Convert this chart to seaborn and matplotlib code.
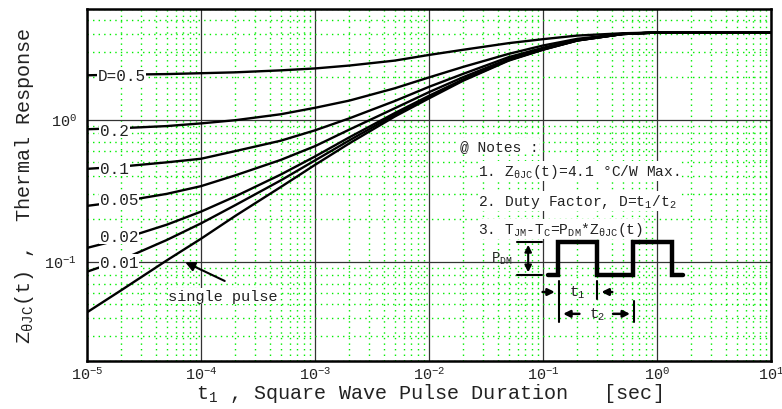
import numpy as np
import pandas as pd
import matplotlib
matplotlib.use("Agg")
import matplotlib.pyplot as plt
import seaborn as sns
from matplotlib.ticker import LogLocator, NullFormatter, FuncFormatter

# pulse duration points (sec)
t_points = [1e-5, 2e-5, 5e-5, 1e-4, 2e-4, 5e-4, 1e-3, 2e-3, 5e-3,
            1e-2, 2e-2, 5e-2, 1e-1, 2e-1, 5e-1, 1, 2, 5, 10]

# thermal response, one list per duty factor
z_d050 = [2.05, 2.07, 2.09, 2.12, 2.15, 2.22, 2.29, 2.40, 2.60,
          2.85, 3.10, 3.45, 3.68, 3.90, 4.05, 4.10, 4.10, 4.10, 4.10]
z_d020 = [0.855, 0.87, 0.90, 0.94, 0.99, 1.09, 1.21, 1.36, 1.66,
          1.98, 2.35, 2.90, 3.32, 3.70, 4.02, 4.10, 4.10, 4.10, 4.10]
z_d010 = [0.45, 0.467, 0.50, 0.53, 0.60, 0.71, 0.84, 1.02, 1.35,
          1.70, 2.10, 2.75, 3.20, 3.65, 4.00, 4.10, 4.10, 4.10, 4.10]
z_d005 = [0.247, 0.265, 0.30, 0.34, 0.405, 0.52, 0.65, 0.85, 1.20,
          1.56, 1.99, 2.67, 3.15, 3.62, 4.00, 4.10, 4.10, 4.10, 4.10]
z_d002 = [0.125, 0.144, 0.182, 0.225, 0.288, 0.41, 0.55, 0.75, 1.11,
          1.47, 1.92, 2.63, 3.12, 3.61, 4.00, 4.10, 4.10, 4.10, 4.10]
z_d001 = [0.085, 0.103, 0.142, 0.186, 0.25, 0.373, 0.516, 0.714, 1.08,
          1.44, 1.90, 2.62, 3.11, 3.60, 4.00, 4.10, 4.10, 4.10, 4.10]
z_single = [0.044, 0.063, 0.102, 0.145, 0.21, 0.335, 0.48, 0.68, 1.05,
            1.41, 1.88, 2.60, 3.10, 3.60, 4.00, 4.10, 4.10, 4.10, 4.10]

curve_names = ["D=0.5", "0.2", "0.1", "0.05", "0.02", "0.01", "single pulse"]
curve_values = [z_d050, z_d020, z_d010, z_d005, z_d002, z_d001, z_single]

# label positions (axes fraction) for the duty factor tags
label_pos = [(0.015, 0.810), (0.019, 0.656), (0.019, 0.548),
             (0.019, 0.460), (0.019, 0.355), (0.019, 0.281)]

df = pd.concat([pd.DataFrame({"t": t_points, "z": v, "curve": n})
                for n, v in zip(curve_names, curve_values)], ignore_index=True)

sns.set_style("white")
plt.rcParams['font.family'] = ['Liberation Mono', 'DejaVu Sans']
plt.rcParams['mathtext.fontset'] = 'custom'
plt.rcParams['mathtext.rm'] = 'Liberation Mono'
plt.rcParams['mathtext.it'] = 'Liberation Mono'
plt.rcParams['mathtext.bf'] = 'Liberation Mono:bold'

fig = plt.figure(figsize=(7.82, 4.10), dpi=100)
ax = fig.add_axes([87 / 782, 48 / 410, 684 / 782, 352 / 410])

sns.lineplot(data=df, x="t", y="z", units="curve", estimator=None,
             color="black", lw=1.7, ax=ax, zorder=3)

ax.set_xscale("log")
ax.set_yscale("log")
ax.set_xlim(1e-5, 10)
ax.set_ylim(0.02, 6)

ax.xaxis.set_major_locator(LogLocator(base=10, numticks=20))
ax.xaxis.set_minor_locator(LogLocator(base=10, subs=np.arange(2, 10), numticks=20))
ax.yaxis.set_major_locator(LogLocator(base=10, numticks=20))
ax.yaxis.set_minor_locator(LogLocator(base=10, subs=np.arange(2, 10), numticks=20))
ax.xaxis.set_minor_formatter(NullFormatter())
ax.yaxis.set_minor_formatter(NullFormatter())
fmt = FuncFormatter(lambda v, p: r"$10^{%d}$" % int(round(np.log10(v))))
ax.xaxis.set_major_formatter(fmt)
ax.yaxis.set_major_formatter(fmt)

ax.grid(which="minor", color="#00ee00", linestyle=(0, (1, 3)), lw=1.0, zorder=0)
ax.grid(which="major", color="#333333", linestyle="-", lw=0.9, zorder=0)
ax.tick_params(which="both", direction="in", top=False, right=False,
               color="black", labelsize=11, labelcolor="#222222")
ax.tick_params(which="major", length=6, width=1.2)
ax.tick_params(axis="x", which="major", pad=3.5)
ax.tick_params(axis="y", which="major", pad=7)
ax.tick_params(which="minor", length=4, width=1.2)
for s in ax.spines.values():
    s.set_linewidth(1.8)
    s.set_color("black")

ax.set_xlabel(r"t$_{1}$ , Square Wave Pulse Duration   [sec]", fontsize=14.5,
              color="#222222", labelpad=-1)
ax.set_ylabel(r"Z$_{θJC}$(t) ,  Thermal Response", fontsize=14.5,
              color="#222222", labelpad=6)

box = dict(facecolor="white", edgecolor="none", pad=0.5)
for name, (lx, ly) in zip(curve_names[:-1], label_pos):
    ax.text(lx, ly, name, transform=ax.transAxes, fontsize=11.5, color="#222222",
            va="center", ha="left", bbox=box, zorder=5)

ax.text(0.199, 0.185, "single pulse", transform=ax.transAxes, fontsize=11,
        color="#222222", va="center", ha="center", bbox=box, zorder=5)
ax.annotate("", xy=(0.140, 0.284), xytext=(0.205, 0.224),
            xycoords="axes fraction", textcoords="axes fraction",
            arrowprops=dict(arrowstyle="-|>", color="black", lw=1.5,
                            mutation_scale=14), zorder=6)

# notes block
notes_kw = dict(transform=ax.transAxes, fontsize=10.5, color="#222222",
                va="center", ha="left", bbox=box, zorder=5)
ax.text(0.545, 0.611, "@ Notes :", **notes_kw)
ax.text(0.572, 0.540, r"1. Z$_{θJC}$(t)=4.1 °C/W Max.", **notes_kw)
ax.text(0.572, 0.455, r"2. Duty Factor, D=t$_{1}$/t$_{2}$", **notes_kw)
ax.text(0.572, 0.375, r"3. T$_{JM}$-T$_{C}$=P$_{DM}$*Z$_{θJC}$(t)", **notes_kw)

# square wave sketch
wave_x = [0.674, 0.689, 0.689, 0.746, 0.746, 0.798, 0.798, 0.855, 0.855, 0.871]
wave_y = [0.244, 0.244, 0.338, 0.338, 0.244, 0.244, 0.338, 0.338, 0.244, 0.244]
ax.plot(wave_x, wave_y, transform=ax.transAxes, color="black", lw=3.2,
        solid_joinstyle="miter", zorder=6)

lk = dict(transform=ax.transAxes, color="black", lw=1.5, zorder=6)
ax.plot([0.629, 0.665], [0.338, 0.338], **lk)
ax.plot([0.629, 0.665], [0.244, 0.244], **lk)
ax.annotate("", xy=(0.645, 0.338), xytext=(0.645, 0.244),
            xycoords="axes fraction", textcoords="axes fraction",
            arrowprops=dict(arrowstyle="<|-|>", color="black", lw=1.5,
                            mutation_scale=10), zorder=6)
ax.text(0.606, 0.292, r"P$_{DM}$", transform=ax.transAxes, fontsize=10,
        color="#222222", va="center", ha="center", zorder=6)

ax.plot([0.690, 0.690], [0.227, 0.112], **lk)
ax.plot([0.746, 0.746], [0.227, 0.176], **lk)
ax.plot([0.800, 0.800], [0.170, 0.111], **lk)
arr = dict(arrowstyle="-|>", color="black", lw=1.8, mutation_scale=10)
for (x0, y0), (x1, y1) in [((0.662, 0.196), (0.688, 0.196)),
                           ((0.772, 0.196), (0.748, 0.196)),
                           ((0.724, 0.134), (0.692, 0.134)),
                           ((0.765, 0.134), (0.798, 0.134))]:
    ax.annotate("", xy=(x1, y1), xytext=(x0, y0), xycoords="axes fraction",
                textcoords="axes fraction", arrowprops=arr, zorder=6)
ax.text(0.717, 0.196, r"t$_{1}$", transform=ax.transAxes, fontsize=10.5,
        color="#222222", va="center", ha="center", zorder=6)
ax.text(0.746, 0.134, r"t$_{2}$", transform=ax.transAxes, fontsize=10.5,
        color="#222222", va="center", ha="center", zorder=6)

# title mostly clipped off the top edge, only descenders visible
fig.text(0.379, 1.010, "Fig. Transient Thermal Response", fontsize=12,
         fontweight="bold", family="DejaVu Sans", va="baseline", ha="left")

fig.savefig("out.png", dpi=100)
